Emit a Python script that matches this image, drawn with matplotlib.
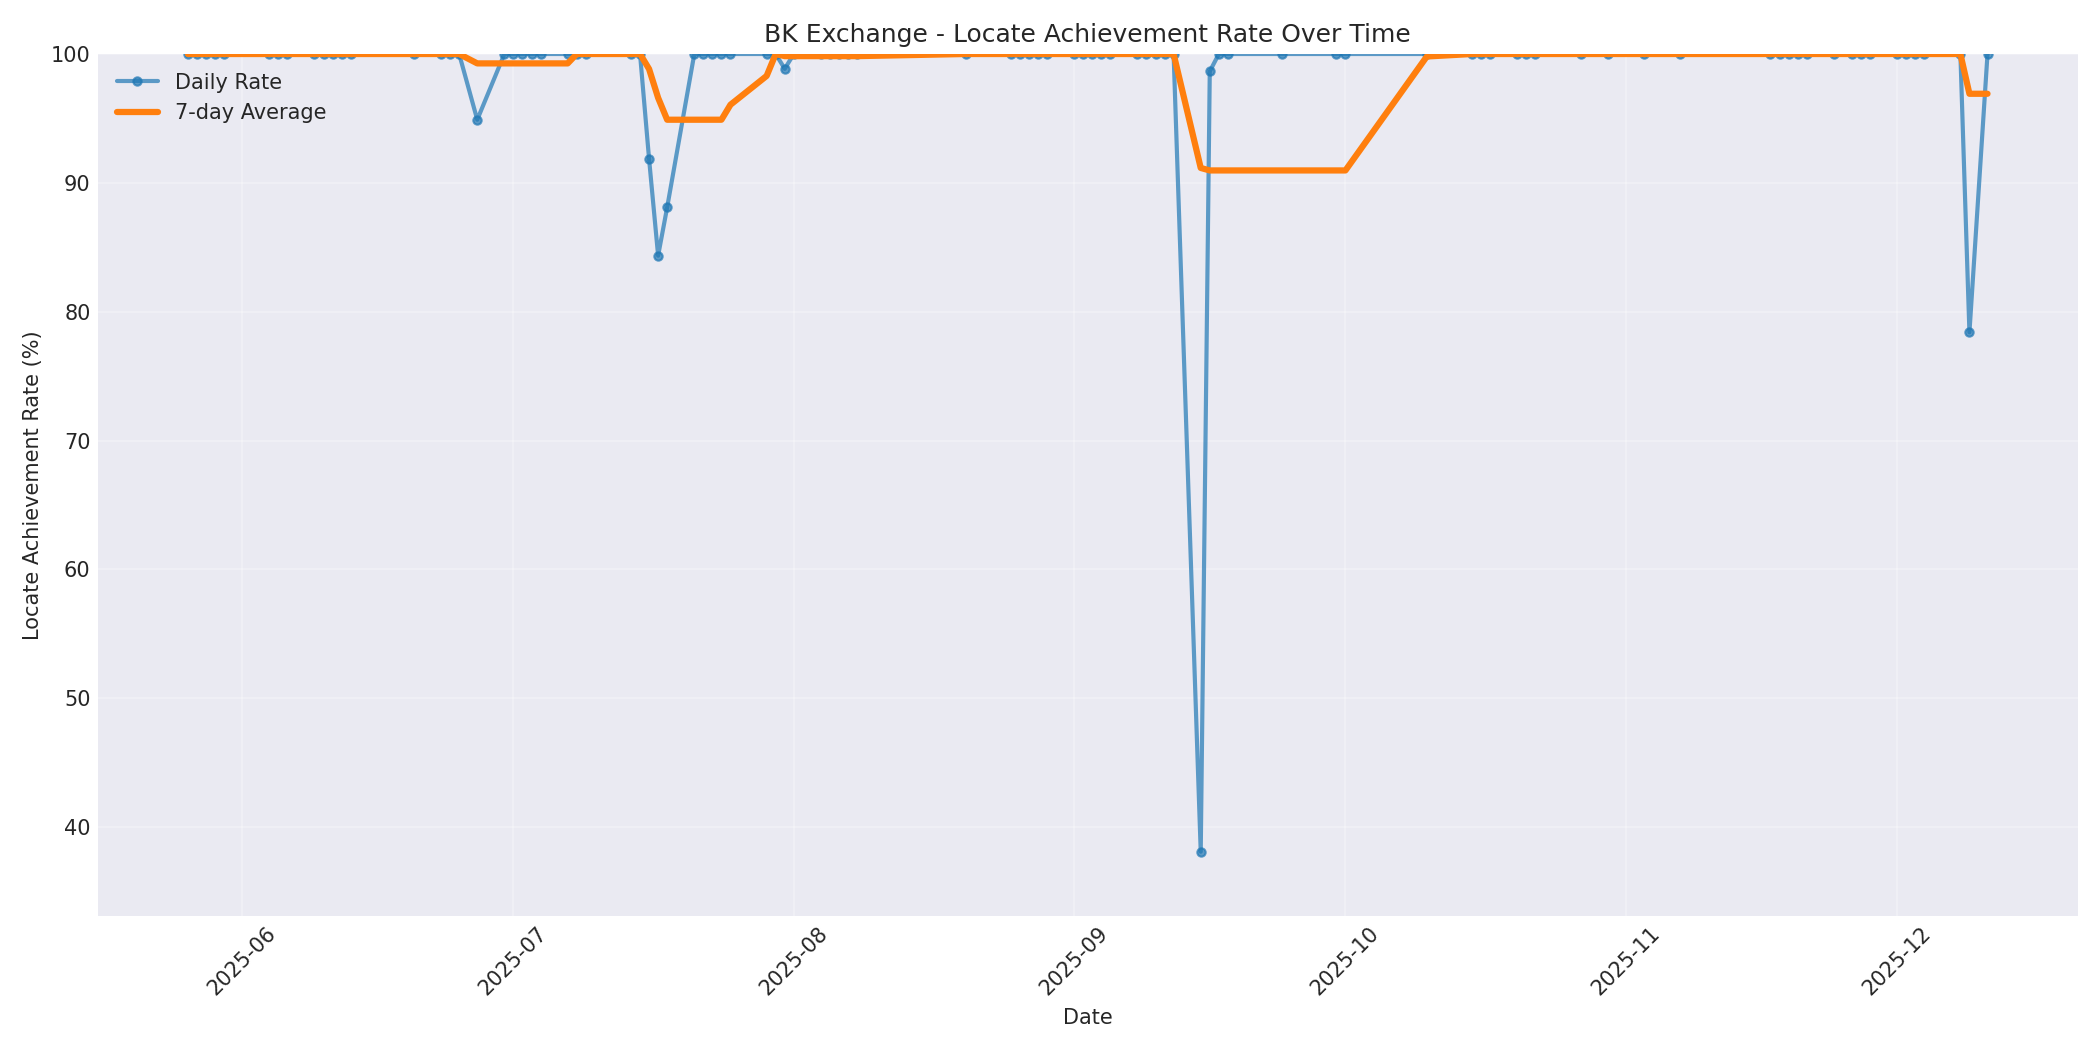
import numpy as np
import pandas as pd
import matplotlib
matplotlib.use("Agg")
import matplotlib.pyplot as plt
import matplotlib.dates as mdates

plt.style.use('seaborn-v0_8-darkgrid')
plt.rcParams['font.family'] = ['DejaVu Sans']

# daily locate achievement rate (%) per trading day
dates = [
    "2025-05-26", "2025-05-27", "2025-05-28", "2025-05-29", "2025-05-30",
    "2025-06-04", "2025-06-05", "2025-06-06",
    "2025-06-09", "2025-06-10", "2025-06-11", "2025-06-12", "2025-06-13",
    "2025-06-20",
    "2025-06-23", "2025-06-24", "2025-06-25", "2025-06-27",
    "2025-06-30", "2025-07-01", "2025-07-02", "2025-07-03", "2025-07-04",
    "2025-07-07", "2025-07-08", "2025-07-09",
    "2025-07-14", "2025-07-15", "2025-07-16", "2025-07-17", "2025-07-18",
    "2025-07-21", "2025-07-22", "2025-07-23", "2025-07-24", "2025-07-25",
    "2025-07-29", "2025-07-30", "2025-07-31", "2025-08-01",
    "2025-08-04", "2025-08-05", "2025-08-06", "2025-08-07", "2025-08-08",
    "2025-08-20",
    "2025-08-25", "2025-08-26", "2025-08-27", "2025-08-28", "2025-08-29",
    "2025-09-01", "2025-09-02", "2025-09-03", "2025-09-04", "2025-09-05",
    "2025-09-08", "2025-09-09", "2025-09-10", "2025-09-11", "2025-09-12",
    "2025-09-15", "2025-09-16", "2025-09-17", "2025-09-18",
    "2025-09-24", "2025-09-30", "2025-10-01", "2025-10-10",
    "2025-10-15", "2025-10-16", "2025-10-17",
    "2025-10-20", "2025-10-21", "2025-10-22",
    "2025-10-27", "2025-10-30", "2025-11-03", "2025-11-07",
    "2025-11-17", "2025-11-18", "2025-11-19", "2025-11-20", "2025-11-21",
    "2025-11-24", "2025-11-26", "2025-11-27", "2025-11-28",
    "2025-12-01", "2025-12-02", "2025-12-03", "2025-12-04",
    "2025-12-08", "2025-12-09", "2025-12-11",
]
rates = [
    100, 100, 100, 100, 100,
    100, 100, 100,
    100, 100, 100, 100, 100,
    100,
    100, 100, 100, 94.9,
    100, 100, 100, 100, 100,
    100, 100, 100,
    100, 100, 91.85, 84.35, 88.1,
    100, 100, 100, 100, 100,
    100, 100, 98.85, 100,
    100, 100, 100, 100, 100,
    100,
    100, 100, 100, 100, 100,
    100, 100, 100, 100, 100,
    100, 100, 100, 100, 100,
    38.1, 98.65, 100, 100,
    100, 100, 100, 100,
    100, 100, 100,
    100, 100, 100,
    100, 100, 100, 100,
    100, 100, 100, 100, 100,
    100, 100, 100, 100,
    100, 100, 100, 100,
    100, 78.4, 100,
]

df = pd.DataFrame({"date": pd.to_datetime(dates), "rate": rates})
df["avg7"] = df["rate"].rolling(window=7, min_periods=1).mean()

fig, ax = plt.subplots(figsize=(14, 7), dpi=150)
ax.plot(df["date"], df["rate"], marker="o", markersize=4, linewidth=2,
        alpha=0.7, color="#1f77b4", label="Daily Rate")
ax.plot(df["date"], df["avg7"], linewidth=3, color="#ff7f0e", label="7-day Average")

ax.set_title("BK Exchange - Locate Achievement Rate Over Time")
ax.set_xlabel("Date")
ax.set_ylabel("Locate Achievement Rate (%)")
ax.set_ylim(df["rate"].min() - 5, 100)
ax.xaxis.set_major_locator(mdates.MonthLocator())
ax.xaxis.set_major_formatter(mdates.DateFormatter("%Y-%m"))
plt.setp(ax.get_xticklabels(), rotation=45)
ax.grid(True, alpha=0.3)
ax.legend(loc="upper left")

plt.tight_layout()
plt.savefig("out.png", dpi=150)
